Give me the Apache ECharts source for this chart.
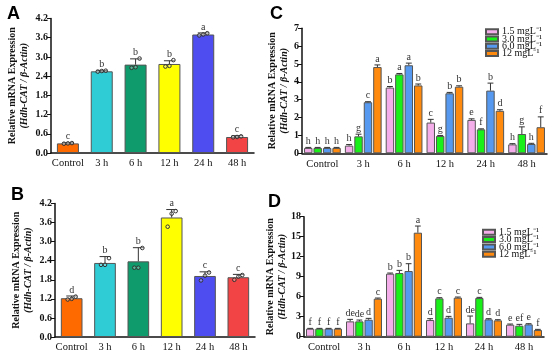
<!DOCTYPE html>
<html><head><meta charset="utf-8">
<script src="https://cdn.jsdelivr.net/npm/echarts@6/dist/echarts.min.js"></script>
<style>html,body{margin:0;padding:0;background:#fff}#c{width:550px;height:353px}</style>
</head><body><div id="c"></div>
<script>
// ---------- DATA ----------
const catsAB = ['Control', '3 h', '6 h', '12 h', '24 h', '48 h'];
const catsCD = ['Control', '3 h', '6 h', '12 h', '24 h', '48 h'];
const yTicksAB = [0.0, 0.6, 1.2, 1.8, 2.4, 3.0, 3.6, 4.2];

// Panel A
const A_mean = [0.30, 2.55, 2.76, 2.78, 3.70, 0.50];
const A_err = [0.02, 0.03, 0.18, 0.10, 0.05, 0.04];
const A_letters = ['c', 'b', 'b', 'b', 'a', 'c'];
const A_rep1 = [0.29, 2.54, 2.66, 2.70, 3.67, 0.49];
const A_rep2 = [0.30, 2.56, 2.68, 2.72, 3.70, 0.50];
const A_rep3 = [0.31, 2.57, 2.95, 2.90, 3.74, 0.52];

// Panel B
const B_mean = [1.22, 2.33, 2.38, 3.76, 1.92, 1.88];
const B_err = [0.07, 0.20, 0.43, 0.25, 0.13, 0.09];
const B_letters = ['d', 'b', 'b', 'a', 'c', 'c'];
const B_rep1 = [1.18, 2.27, 2.18, 3.47, 1.78, 1.80];
const B_rep2 = [1.20, 2.27, 2.18, 3.88, 1.93, 1.90];
const B_rep3 = [1.27, 2.48, 2.80, 3.96, 2.03, 1.95];

const abColors = ['#FF6A00', '#2FCCD6', '#0F9B6B', '#FFFF00', '#4D4DF0', '#F24444'];

// Panel C (series: 1.5, 3.0, 6.0, 12 mgL-1)
const seriesNames = ['1.5 mgL⁻¹', '3.0 mgL⁻¹', '6.0 mgL⁻¹', '12 mgL⁻¹'];
const C_15 = [0.30, 0.43, 3.68, 1.72, 1.87, 0.50];
const C_30 = [0.30, 0.95, 4.42, 0.97, 1.34, 1.08];
const C_60 = [0.30, 2.86, 4.93, 3.36, 3.51, 0.52];
const C_12 = [0.30, 4.83, 3.80, 3.73, 2.38, 1.46];
const C_15_err = [0.03, 0.06, 0.06, 0.18, 0.06, 0.04];
const C_30_err = [0.03, 0.12, 0.05, 0.03, 0.03, 0.40];
const C_60_err = [0.03, 0.03, 0.12, 0.05, 0.42, 0.04];
const C_12_err = [0.03, 0.12, 0.08, 0.05, 0.06, 0.58];
const C_15_let = ['h', 'h', 'b', 'c', 'e', 'h'];
const C_30_let = ['h', 'g', 'a', 'g', 'f', 'g'];
const C_60_let = ['h', 'c', 'a', 'b', 'b', 'h'];
const C_12_let = ['h', 'a', 'b', 'b', 'd', 'f'];

// Panel D
const D_15 = [1.20, 2.30, 9.45, 2.50, 2.00, 1.80];
const D_30 = [1.20, 2.30, 9.55, 5.75, 5.80, 1.65];
const D_60 = [1.20, 2.55, 9.85, 2.85, 2.60, 1.85];
const D_12 = [1.20, 5.70, 15.60, 5.85, 2.45, 1.00];
const D_15_err = [0.05, 0.30, 0.10, 0.20, 1.10, 0.10];
const D_30_err = [0.05, 0.20, 0.40, 0.10, 0.10, 0.20];
const D_60_err = [0.05, 0.20, 1.10, 0.20, 0.10, 0.10];
const D_12_err = [0.05, 0.10, 1.00, 0.10, 0.10, 0.10];
const D_15_let = ['f', 'de', 'b', 'd', 'de', 'e'];
const D_30_let = ['f', 'de', 'b', 'c', 'c', 'ef'];
const D_60_let = ['f', 'd', 'b', 'd', 'd', 'e'];
const D_12_let = ['f', 'c', 'a', 'c', 'd', 'f'];

const cdColors = ['#F4AEEA', '#19F019', '#559AF0', '#FF8A0E'];

// ---------- STYLE / BUILD ----------
const SERIF = '"Liberation Serif", "Times New Roman", serif';
const CAT_GAP_AB = 0.35, CAT_GAP_CD = 0.10, BAR_GAP_CD = 0.12;

function errRender(letters, idx, n, catGap, barGap, capFrac) {
  return function (params, api) {
    const cat = api.value(0), mean = api.value(1), err = api.value(2);
    const band = api.size([1, 0])[0];
    const bw = band * (1 - catGap) / (n + (n - 1) * barGap);
    const off = (idx - (n - 1) / 2) * bw * (1 + barGap);
    const p0 = api.coord([cat, mean]);
    const p1 = api.coord([cat, mean + err]);
    const x = p0[0] + off;
    const cw = bw * capFrac;
    return {
      type: 'group', children: [
        { type: 'line', shape: { x1: x, y1: p0[1], x2: x, y2: p1[1] }, style: { stroke: '#333', lineWidth: 1 } },
        { type: 'line', shape: { x1: x - cw / 2, y1: p1[1], x2: x + cw / 2, y2: p1[1] }, style: { stroke: '#333', lineWidth: 1 } },
        { type: 'text', x: x, y: p1[1] - 1, style: { text: letters[params.dataIndex], fill: '#333', font: '10px ' + SERIF, textAlign: 'center', textVerticalAlign: 'bottom' } }
      ]
    };
  };
}
function dotRender(params, api) {
  const cat = api.value(0);
  const kids = [];
  for (let j = 0; j < 3; j++) {
    const p = api.coord([cat, api.value(1 + j)]);
    kids.push({ type: 'circle', shape: { cx: p[0] + (j - 1) * 4, cy: p[1], r: 1.8 }, style: { stroke: '#333', fill: 'rgba(255,255,255,0.3)', lineWidth: 1 } });
  }
  return { type: 'group', children: kids };
}

const grids = [
  { left: 51, top: 18.5, width: 203, height: 134.5 },
  { left: 55, top: 203.5, width: 200, height: 134 },
  { left: 302, top: 28.3, width: 245, height: 125 },
  { left: 304, top: 216.7, width: 240, height: 120 }
];
const yName = '{a|Relative mRNA Expression}\n{b|(Hdh-CAT / β-Actin)}';
function xAxis(gi, cats) {
  return {
    type: 'category', gridIndex: gi, data: cats,
    axisLine: { lineStyle: { color: '#111', width: 1.5 } },
    axisTick: { alignWithLabel: true, length: 4, lineStyle: { color: '#111' } },
    axisLabel: { fontFamily: SERIF, fontSize: 10.5, color: '#111', margin: 5, interval: 0 }
  };
}
function yAxis(gi, max, interval, gap, fmt) {
  return {
    type: 'value', gridIndex: gi, min: 0, max: max, interval: interval,
    splitLine: { show: false },
    axisLine: { show: true, lineStyle: { color: '#111', width: 1.5 } },
    axisTick: { show: true, length: 4, lineStyle: { color: '#111' } },
    axisLabel: { fontFamily: SERIF, fontSize: 10, fontWeight: 'bold', color: '#111', margin: 3, formatter: fmt },
    name: yName, nameLocation: 'middle', nameGap: gap, nameRotate: 90,
    nameTextStyle: {
      rich: {
        a: { fontFamily: SERIF, fontSize: 10, fontWeight: 'bold', color: '#111', lineHeight: 12 },
        b: { fontFamily: SERIF, fontSize: 10, fontWeight: 'bold', fontStyle: 'italic', color: '#111', lineHeight: 12 }
      }
    }
  };
}
const fmtAB = v => v.toFixed(1);
const fmtInt = v => String(v);

const series = [];
// A & B
[[A_mean, A_err, A_letters, A_rep1, A_rep2, A_rep3], [B_mean, B_err, B_letters, B_rep1, B_rep2, B_rep3]].forEach((d, gi) => {
  series.push({
    type: 'bar', xAxisIndex: gi, yAxisIndex: gi, barCategoryGap: (CAT_GAP_AB * 100) + '%',
    data: d[0].map((v, i) => ({ value: v, itemStyle: { color: abColors[i] } })),
    itemStyle: { borderColor: '#555', borderWidth: 1 }
  });
  series.push({
    type: 'custom', xAxisIndex: gi, yAxisIndex: gi, z: 5,
    renderItem: errRender(d[2], 0, 1, CAT_GAP_AB, 0, 0.5),
    data: d[0].map((v, i) => [i, v, d[1][i]])
  });
  series.push({
    type: 'custom', xAxisIndex: gi, yAxisIndex: gi, z: 6,
    renderItem: dotRender,
    data: d[0].map((v, i) => [i, d[3][i], d[4][i], d[5][i]])
  });
});
// C & D
const cdSets = [
  [[C_15, C_30, C_60, C_12], [C_15_err, C_30_err, C_60_err, C_12_err], [C_15_let, C_30_let, C_60_let, C_12_let]],
  [[D_15, D_30, D_60, D_12], [D_15_err, D_30_err, D_60_err, D_12_err], [D_15_let, D_30_let, D_60_let, D_12_let]]
];
cdSets.forEach((set, k) => {
  const gi = k + 2;
  set[0].forEach((vals, s) => {
    series.push({
      type: 'bar', name: seriesNames[s], xAxisIndex: gi, yAxisIndex: gi,
      barCategoryGap: (CAT_GAP_CD * 100) + '%', barGap: (BAR_GAP_CD * 100) + '%',
      data: vals, itemStyle: { color: cdColors[s], borderColor: '#555', borderWidth: 1 }
    });
  });
  set[0].forEach((vals, s) => {
    series.push({
      type: 'custom', xAxisIndex: gi, yAxisIndex: gi, z: 5,
      renderItem: errRender(set[2][s], s, 4, CAT_GAP_CD, BAR_GAP_CD, 0.7),
      data: vals.map((v, i) => [i, v, set[1][s][i]])
    });
  });
});

function legend(left, top) {
  return {
    data: seriesNames, orient: 'vertical', left: left, top: top,
    icon: 'rect', itemWidth: 12, itemHeight: 5, itemGap: -2.7, padding: 0,
    selectedMode: false,
    textStyle: { fontFamily: SERIF, fontSize: 10, color: '#111', lineHeight: 10, padding: [0, 0, 0, -1] }
  };
}

const option = {
  animation: false,
  grid: grids,
  xAxis: [xAxis(0, catsAB), xAxis(1, catsAB), xAxis(2, catsCD), xAxis(3, catsCD)],
  yAxis: [yAxis(0, 4.2, 0.6, 21, fmtAB), yAxis(1, 4.2, 0.6, 21, fmtAB), yAxis(2, 7, 1, 12, fmtInt), yAxis(3, 18, 3, 16, fmtInt)],
  legend: [legend(485, 26.7), legend(482, 227.3)],
  series: series,
  graphic: [
    { type: 'text', left: 7, top: 5, style: { text: 'A', font: 'bold 18px "Liberation Sans", Arial, sans-serif', fill: '#000' } },
    { type: 'text', left: 11, top: 186, style: { text: 'B', font: 'bold 18px "Liberation Sans", Arial, sans-serif', fill: '#000' } },
    { type: 'text', left: 270, top: 5, style: { text: 'C', font: 'bold 18px "Liberation Sans", Arial, sans-serif', fill: '#000' } },
    { type: 'text', left: 268, top: 193, style: { text: 'D', font: 'bold 18px "Liberation Sans", Arial, sans-serif', fill: '#000' } }
  ]
};
echarts.init(document.getElementById('c')).setOption(option);
</script></body></html>
